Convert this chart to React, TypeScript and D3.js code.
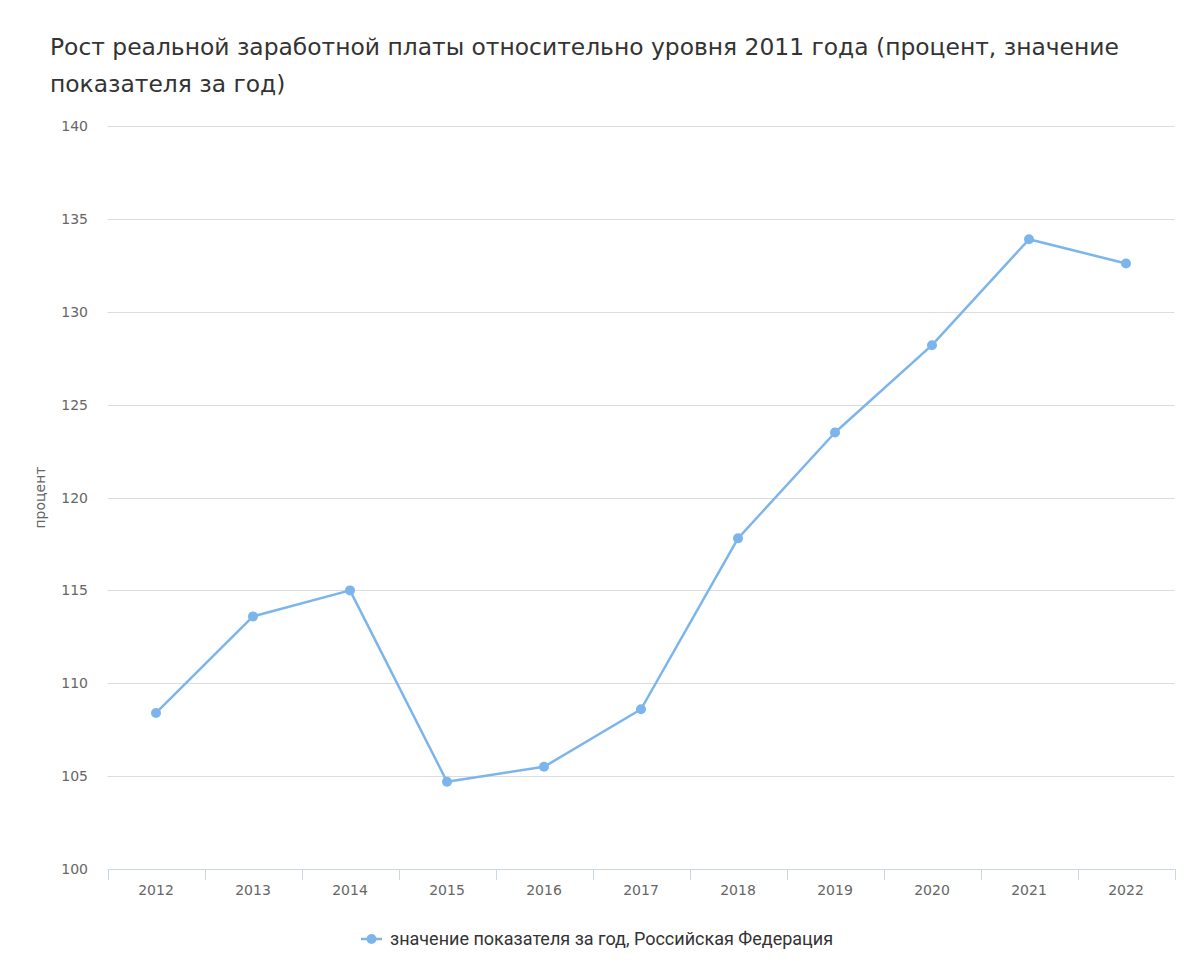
import React from "react";
import * as d3 from "d3";

const years = ["2012","2013","2014","2015","2016","2017","2018","2019","2020","2021","2022"];
const values = [108.4,113.6,115.0,104.7,105.5,108.6,117.8,123.5,128.2,133.9,132.6];
const yTicks = [100,105,110,115,120,125,130,135,140];
const titleLines = ["Рост реальной заработной платы относительно уровня 2011 года (процент, значение", "показателя за год)"];
const yAxisTitle = "процент";
const legendLabel = "значение показателя за год, Российская Федерация";

export default function App() {
  const W = 1200, H = 980;
  const left = 107.5, right = 1174.5, top = 126, bottom = 869;
  const x = d3.scaleBand().domain(years).range([left, right]);
  const y = d3.scaleLinear().domain([100, 140]).range([bottom, top]);
  const line = d3.line<number>().x((_, i) => x(years[i])! + x.bandwidth() / 2).y(v => y(v));
  const color = "#7cb5ec";
  const font = "'DejaVu Sans', 'Open Sans', sans-serif";
  return (
    <svg width={W} height={H} style={{ position: "absolute", left: 0, top: 0, background: "#fff" }}>
      {titleLines.map((t, i) => (
        <text key={i} x={50} y={55 + i * 37} fontSize={23.4} fill="#333" fontFamily={font}>{t}</text>
      ))}
      {yTicks.map(t => (
        <g key={t}>
          {t !== 100 && <line x1={left} x2={right} y1={Math.round(y(t)) + 0.5} y2={Math.round(y(t)) + 0.5} stroke="#dcdcdc" strokeWidth={1} />}
          <text x={88} y={y(t) + 5} textAnchor="end" fontSize={14} fill="#666" fontFamily={font}>{t}</text>
        </g>
      ))}
      <text transform={`translate(45,${(top + bottom) / 2}) rotate(-90)`} textAnchor="middle" fontSize={14} fill="#666" fontFamily={font}>{yAxisTitle}</text>
      <line x1={left} x2={right} y1={bottom + 0.5} y2={bottom + 0.5} stroke="#ccd6eb" strokeWidth={1} />
      {[...years.map(yr => x(yr)!), right].map((p, i) => (
        <line key={i} x1={Math.round(p) + 0.5} x2={Math.round(p) + 0.5} y1={bottom} y2={bottom + 11} stroke="#ccd6eb" strokeWidth={1} />
      ))}
      {years.map(yr => (
        <text key={yr} x={x(yr)! + x.bandwidth() / 2} y={895} textAnchor="middle" fontSize={14} fill="#666" fontFamily={font}>{yr}</text>
      ))}
      <path d={line(values)!} fill="none" stroke={color} strokeWidth={2.5} strokeLinejoin="round" strokeLinecap="round" />
      {values.map((v, i) => (
        <circle key={i} cx={x(years[i])! + x.bandwidth() / 2} cy={y(v)} r={5} fill={color} />
      ))}
      <line x1={361} x2={382} y1={939} y2={939} stroke={color} strokeWidth={2.5} />
      <circle cx={371.5} cy={939} r={5} fill={color} />
      <text x={390} y={945} fontSize={18} fill="#333" fontFamily="Roboto, sans-serif">{legendLabel}</text>
    </svg>
  );
}
